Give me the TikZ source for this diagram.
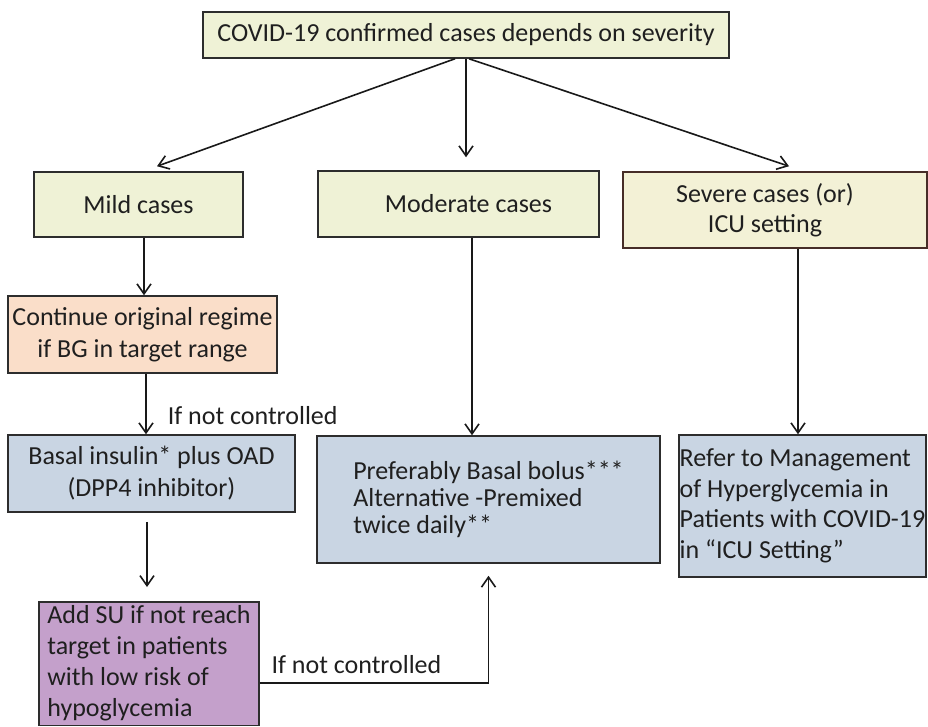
\documentclass[tikz,border=0pt]{standalone}
\usepackage{fontspec}
\setmainfont{Carlito}
\definecolor{mildgreen}{RGB}{239, 242, 214}
\definecolor{severeyellow}{RGB}{243, 241, 214}
\definecolor{stepblue}{RGB}{201, 213, 227}
\definecolor{regimepeach}{RGB}{250, 222, 201}
\definecolor{supurple}{RGB}{196, 160, 203}
\definecolor{edgegray}{RGB}{45, 45, 45}
\definecolor{edgebrown}{RGB}{70, 45, 40}
\usetikzlibrary{arrows.meta, calc}
\tikzset{
  box/.style={draw=edgegray, line width=1.5pt, inner sep=0pt, align=center, text=black!88, font=\fontsize{26}{32}\selectfont},
  arr/.style={-{Straight Barb[length=10pt, width=14pt]}, line width=1.6pt, draw=black!90},
  lbl/.style={inner sep=0pt, text=black!88, font=\fontsize{26}{30}\selectfont},
}

\begin{document}
\begin{tikzpicture}[x=1pt, y=-1pt]
  \useasboundingbox (0,0) rectangle (928,726);

  % Severity
  \node[box, fill=mildgreen, minimum width=526pt, minimum height=46pt] (severity) at (466, 35) {COVID-19 confirmed cases depends on severity};

  % Three branches
  \node[box, fill=mildgreen, minimum width=209pt, minimum height=65pt] (mild) at (138.5, 204.5) {Mild cases};
  \node[box, fill=mildgreen, minimum width=281pt, minimum height=66pt] (moderate) at (458.5, 204) {\hspace*{20pt}Moderate cases};
  \node[box, draw=edgebrown, fill=severeyellow, minimum width=304pt, minimum height=76pt, font=\fontsize{26}{30}\selectfont] (severe) at (775, 210) {Severe cases (or)\hspace*{20pt}\\ICU setting\hspace*{20pt}};

  % Mild path
  \node[box, fill=regimepeach, minimum width=269pt, minimum height=77pt] (regime) at (142.5, 334.5) {Continue original regime\\if BG in target range};
  \node[box, fill=stepblue, minimum width=287pt, minimum height=77pt] (basal) at (151.5, 473.5) {Basal insulin* plus OAD\\(DPP4 inhibitor)};
  \node[box, fill=supurple, align=left, minimum width=220pt, inner ysep=4pt, anchor=north, font=\fontsize{26}{31}\selectfont] (addsu) at (149, 601) {Add SU if not reach\\target in patients\\with low risk of\\hypoglycemia};

  % Moderate and severe
  \node[box, fill=stepblue, align=left, minimum width=343pt, minimum height=127pt, font=\fontsize{26}{27}\selectfont] (bolus) at (488.5, 499.5) {Preferably Basal bolus***\\Alternative -Premixed\\twice daily**};
  \node[box, fill=stepblue, align=left, minimum width=247pt, minimum height=142pt, font=\fontsize{26}{30.5}\selectfont] (refer) at (802.5, 506) {Refer to Management\\of Hyperglycemia in\\Patients with COVID-19\\in ``ICU Setting''};

  % Arrows
  \draw[arr] ([xshift=-11pt]severity.south) -- ([xshift=18.5pt, yshift=5pt]mild.north);
  \draw[arr] (severity.south) -- ([yshift=13pt]severity.south |- moderate.north);
  \draw[arr] ([xshift=3pt]severity.south) -- ([xshift=14pt, yshift=5pt]severe.north);

  \draw[arr] ([xshift=5.5pt]mild.south) -- ([xshift=5.5pt]mild.south |- regime.north);
  \draw[arr] ([xshift=3.5pt]regime.south) -- node[lbl, pos=0.84, anchor=base west, xshift=21pt] {If not controlled} ([xshift=3.5pt]regime.south |- basal.north);
  \draw[arr] ([xshift=-4.5pt, yshift=-9pt]basal.south) -- ([xshift=-4.5pt, yshift=14pt]basal.south |- addsu.north);

  \draw[arr] ([xshift=13.5pt]moderate.south) -- ([xshift=13.5pt]moderate.south |- bolus.north);
  \draw[arr] ([xshift=23pt]severe.south) -- ([xshift=23pt]severe.south |- refer.north);

  % Escalation
  \coordinate (turn) at (488.5, 683);
  \draw[arr] (addsu.east |- turn) -- node[lbl, at start, anchor=base west, xshift=11pt, yshift=10pt] {If not controlled} (turn) -- ([yshift=-12pt]bolus.south);
\end{tikzpicture}
\end{document}
